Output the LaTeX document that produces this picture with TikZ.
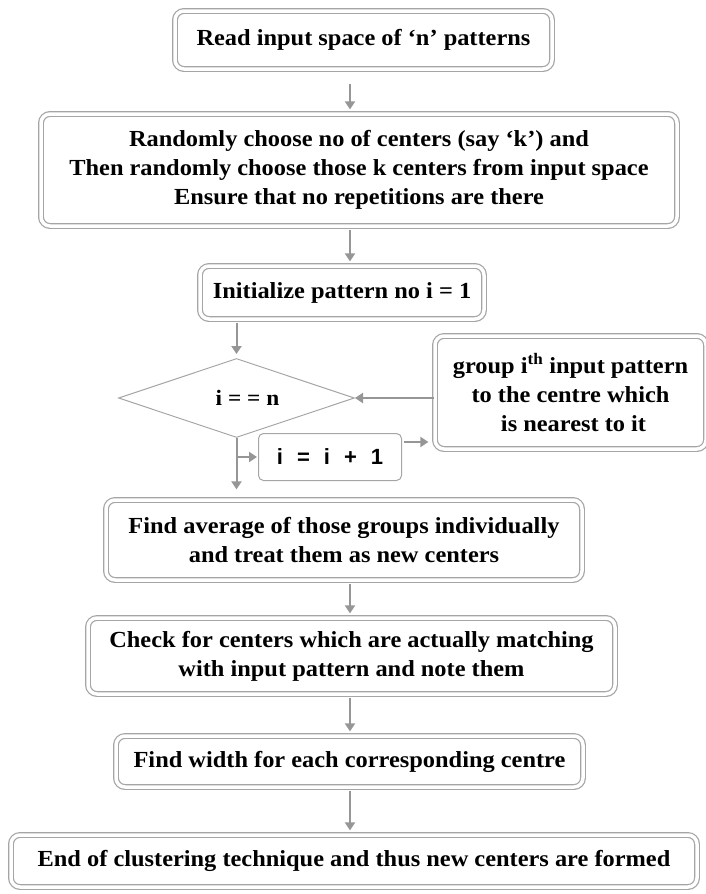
\documentclass[tikz,border=0pt]{standalone}
\usepackage{fontspec}
\setmainfont[FakeStretch=1.06]{Liberation Serif}
\newfontfamily\incfont{Liberation Sans}
\usetikzlibrary{shapes,arrows.meta,positioning,calc}
\definecolor{boxgray}{RGB}{165,165,165}
\definecolor{arrgray}{RGB}{150,150,150}

\begin{document}
\begin{tikzpicture}[x=1pt, y=-1pt,
    flow block/.style={draw=boxgray, double=white, double distance=3.5pt, line width=1.2pt, rounded corners=9pt, align=center, inner sep=0pt, font=\fontsize{23}{29}\selectfont\bfseries},
    flow test/.style={diamond, aspect=3, draw=boxgray, line width=1pt, inner sep=0pt, font=\fontsize{22}{29}\selectfont\bfseries},
    flow inc/.style={draw=boxgray, line width=1pt, rounded corners=5pt, inner sep=0pt, font=\incfont\fontsize{22}{26}\selectfont\bfseries},
    flow arrow/.style={draw=arrgray, line width=2pt, -{Triangle[length=8pt,width=10pt]}, shorten <=3pt, shorten >=4pt}]
    \useasboundingbox (0,0) rectangle (705,894);
    \coordinate (ax) at (350,0);

    \node[flow block, minimum width=377pt, minimum height=58pt] (read) at (363.5,40) {Read input space of ‘n’ patterns};
    \node[flow block, minimum width=636pt, minimum height=112pt] (rand) at (359,170) {Randomly choose no of centers (say ‘k’) and\\ Then randomly choose those k centers from input space\\ Ensure that no repetitions are there};
    \node[flow block, minimum width=284pt, minimum height=53pt] (init) at (342,292.5) {Initialize pattern no i = 1};
    \node[flow test, minimum width=236pt, minimum height=79pt] (test) at (236.5,398) {\hspace{22pt}i = = n};
    \node[flow block, minimum width=271pt, minimum height=113pt] (group) at (570.5,392.5) {group i\textsuperscript{th} input pattern\\ to the centre which\\ \ is nearest to it};
    \node[flow inc, minimum width=143pt, minimum height=47pt] (inc) at (330,457) {i\hspace{14pt}=\hspace{14pt}i\hspace{14pt}+\hspace{14pt}1};
    \node[flow block, minimum width=476pt, minimum height=80pt] (avg) at (344,540) {Find average of those groups individually\\ and treat them as new centers};
    \node[flow block, minimum width=527pt, minimum height=76pt] (check) at (351.5,656) {Check for centers which are actually matching\\ with input pattern and note them};
    \node[flow block, minimum width=467pt, minimum height=51pt] (width) at (349.5,761.5) {Find width for each corresponding centre};
    \node[flow block, minimum width=686pt, minimum height=52pt] (end) at (354,861) {End of clustering technique and thus new centers are formed};

    \coordinate (branch) at (test.south |- inc.west);

    \draw[flow arrow, shorten <=14pt] (read.south -| ax) -- (rand.north -| ax);
    \draw[flow arrow] (rand.south -| ax) -- (init.north -| ax);
    \draw[flow arrow] (init.south -| test.north) -- (test.north);
    \draw[flow arrow, shorten <=0pt, shorten >=0pt] (group.west |- test.east) -- (test.east);
    \draw[flow arrow, shorten <=0pt, shorten >=10pt] (test.south) -- (test.south |- avg.north);
    \draw[flow arrow, shorten <=0pt, shorten >=1pt] (branch) -- (inc.west);
    \draw[flow arrow, shorten <=2pt, shorten >=6pt] ([yshift=15pt]inc.east) -- ([yshift=15pt]inc.east -| group.west);
    \draw[flow arrow] (avg.south -| ax) -- (check.north -| ax);
    \draw[flow arrow] (check.south -| ax) -- (width.north -| ax);
    \draw[flow arrow] (width.south -| ax) -- (end.north -| ax);
\end{tikzpicture}
\end{document}
